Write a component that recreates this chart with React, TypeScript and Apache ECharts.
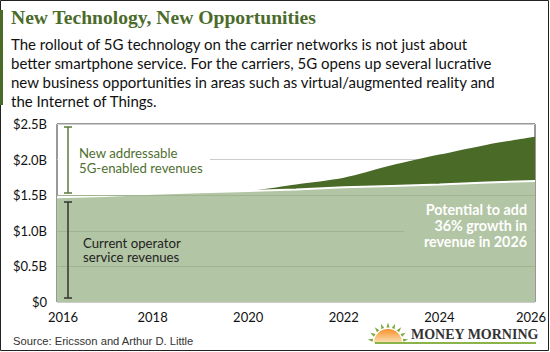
import React, { useEffect, useRef } from 'react';
import * as echarts from 'echarts';

const years = ['2016', '2017', '2018', '2019', '2020', '2021', '2022', '2023', '2024', '2025', '2026'];
const currentRevenue = [1.47, 1.49, 1.52, 1.54, 1.56, 1.58, 1.61, 1.63, 1.65, 1.68, 1.70];
const newRevenue = [0, 0, 0, 0, 0, 0.07, 0.135, 0.29, 0.42, 0.53, 0.62];
const yTickLabels = ['$0', '$0.5B', '$1.0B', '$1.5B', '$2.0B', '$2.5B'];
const innerGridValues = [0.5, 1.0, 1.5];

const title = 'New Technology, New Opportunities';
const intro = [
  'The rollout of 5G technology on the carrier networks is not just about',
  'better smartphone service. For the carriers, 5G opens up several lucrative',
  'new business opportunities in areas such as virtual/augmented reality and',
  'the Internet of Things.',
];
const newLabel = 'New addressable\n5G-enabled revenues';
const currentLabel = 'Current operator\nservice revenues';
const growthLabel = 'Potential to add\n36% growth in\nrevenue in 2026';
const source = 'Source: Ericsson and Arthur D. Little';
const brand = 'MONEY MORNING';

const DARK = '#4a6a28';
const LIGHT = '#b2c5a4';
const FONT = 'Lato';

export default function App() {
  const ref = useRef<HTMLDivElement>(null);
  useEffect(() => {
    if (!ref.current) return;
    const chart = echarts.init(ref.current, null, { renderer: 'svg' });
    const totals = currentRevenue.map((v, i) => +(v + newRevenue[i]).toFixed(3));

    const rays: any[] = [];
    const cx = 388, cy = 343;
    for (let k = 0; k < 9; k++) {
      const a = Math.PI + (Math.PI * (k + 0.5)) / 9;
      const r0 = 15.5, r1 = 20.5, d = 0.1;
      rays.push({
        type: 'polygon',
        shape: {
          points: [
            [cx + r0 * Math.cos(a - d), cy + r0 * Math.sin(a - d)],
            [cx + r1 * Math.cos(a), cy + r1 * Math.sin(a)],
            [cx + r0 * Math.cos(a + d), cy + r0 * Math.sin(a + d)],
          ],
        },
        style: { fill: '#7aa83a' },
        z: 100,
      });
    }

    chart.setOption({
      animation: false,
      backgroundColor: '#fff',
      grid: { left: 57, right: 15, top: 124, bottom: 50, show: true, borderColor: '#333', borderWidth: 1, backgroundColor: 'transparent', containLabel: false },
      xAxis: {
        type: 'category',
        data: years,
        boundaryGap: false,
        axisLine: { show: false },
        axisTick: { show: false },
        splitLine: { show: false },
        axisLabel: {
          interval: 1,
          margin: 8,
          color: '#111',
          fontFamily: FONT,
          fontSize: 13,
          formatter: (v: string, i: number) => (i === 0 ? '{l|' + v + '}' : i === years.length - 1 ? '{r|' + v + '}' : v),
          rich: {
            l: { padding: [0, 0, 0, 12], fontFamily: FONT, fontSize: 13, color: '#111' },
            r: { padding: [0, 8, 0, 0], fontFamily: FONT, fontSize: 13, color: '#111' },
          },
        },
      },
      yAxis: {
        type: 'value',
        min: 0,
        max: 2.5,
        interval: 0.5,
        axisLine: { show: false },
        axisTick: { show: false },
        splitLine: { show: true, lineStyle: { color: '#cccccc', width: 1 } },
        axisLabel: {
          margin: 10,
          color: '#111',
          fontFamily: FONT,
          fontSize: 13,
          formatter: (v: number) => yTickLabels[Math.round(v / 0.5)],
        },
      },
      series: [
        {
          name: 'New addressable 5G-enabled revenues',
          type: 'line',
          data: totals,
          smooth: 0.25,
          symbol: 'none',
          lineStyle: { width: 0 },
          areaStyle: { color: DARK, opacity: 1 },
          z: 2,
        },
        {
          name: 'Current operator service revenues',
          type: 'line',
          data: currentRevenue,
          symbol: 'none',
          lineStyle: { width: 2, color: '#ffffff' },
          areaStyle: { color: LIGHT, opacity: 1 },
          z: 3,
          markLine: {
            silent: true,
            symbol: 'none',
            label: { show: false },
            lineStyle: { color: '#a0b491', width: 1, type: 'solid' },
            data: innerGridValues.map((v) => ({ yAxis: v })),
          },
        },
      ],
      graphic: [
        { type: 'rect', shape: { x: 0.5, y: 0.5, width: 548, height: 350 }, style: { fill: 'none', stroke: '#222', lineWidth: 1 }, z: 100 },
        { type: 'rect', shape: { x: 0, y: 10, width: 3, height: 95 }, style: { fill: DARK }, z: 100 },
        { type: 'text', x: 11, y: 17, style: { text: title, fill: '#4b6b2b', font: 'bold 19.6px "Liberation Serif"', textVerticalAlign: 'middle' }, z: 100 },
        { type: 'text', x: 11, y: 34.5, style: { text: intro.join('\n'), fill: '#111', font: '15px ' + FONT, lineHeight: 19, textVerticalAlign: 'top' }, z: 100 },
        // white box hiding gridline behind the top annotation
        { type: 'rect', shape: { x: 58, y: 142, width: 152, height: 34 }, style: { fill: '#fff' }, z: 50 },
        // green box behind growth note
        { type: 'rect', shape: { x: 404, y: 201, width: 130, height: 48 }, style: { fill: LIGHT }, z: 50 },
        // green bracket
        { type: 'line', shape: { x1: 68, y1: 127, x2: 68, y2: 193 }, style: { stroke: '#5b7b3b', lineWidth: 1.5 }, z: 100 },
        { type: 'line', shape: { x1: 64, y1: 127, x2: 72, y2: 127 }, style: { stroke: '#5b7b3b', lineWidth: 1.5 }, z: 100 },
        { type: 'line', shape: { x1: 64, y1: 193, x2: 72, y2: 193 }, style: { stroke: '#5b7b3b', lineWidth: 1.5 }, z: 100 },
        // black bracket
        { type: 'line', shape: { x1: 68, y1: 202, x2: 68, y2: 298 }, style: { stroke: '#333', lineWidth: 1.5 }, z: 100 },
        { type: 'line', shape: { x1: 64, y1: 202, x2: 72, y2: 202 }, style: { stroke: '#333', lineWidth: 1.5 }, z: 100 },
        { type: 'line', shape: { x1: 64, y1: 298, x2: 72, y2: 298 }, style: { stroke: '#333', lineWidth: 1.5 }, z: 100 },
        { type: 'text', x: 79, y: 145, style: { text: newLabel, fill: '#4f6f2f', font: '13.2px ' + FONT, lineHeight: 15, textVerticalAlign: 'top' }, z: 100 },
        { type: 'text', x: 83, y: 235.5, style: { text: currentLabel, fill: '#222', font: '13.2px ' + FONT, lineHeight: 14.5, textVerticalAlign: 'top' }, z: 100 },
        { type: 'text', x: 527, y: 201.5, style: { text: growthLabel, fill: '#fff', font: 'bold 14.3px ' + FONT, lineHeight: 16, textAlign: 'right', textVerticalAlign: 'top' }, z: 100 },
        { type: 'text', x: 13, y: 341, style: { text: source, fill: '#333', font: '11.2px "Liberation Sans"', textVerticalAlign: 'middle' }, z: 100 },
        // logo
        {
          type: 'sector',
          shape: { cx, cy, r0: 0, r: 14, startAngle: Math.PI, endAngle: 2 * Math.PI },
          style: { fill: new echarts.graphic.LinearGradient(0, 0, 0, 1, [{ offset: 0, color: '#f5912a' }, { offset: 1, color: '#fde2b8' }]) },
          z: 100,
        },
        ...rays,
        { type: 'text', x: 411, y: 334, style: { text: brand, fill: '#333', font: '600 14px "Liberation Serif"', textVerticalAlign: 'middle' }, z: 100 },
        { type: 'rect', shape: { x: 375, y: 342, width: 161, height: 2 }, style: { fill: '#8ab34a' }, z: 100 },
      ],
    });
    return () => chart.dispose();
  }, []);
  return <div ref={ref} style={{ position: 'fixed', left: 0, top: 0, width: 550, height: 352 }} />;
}
